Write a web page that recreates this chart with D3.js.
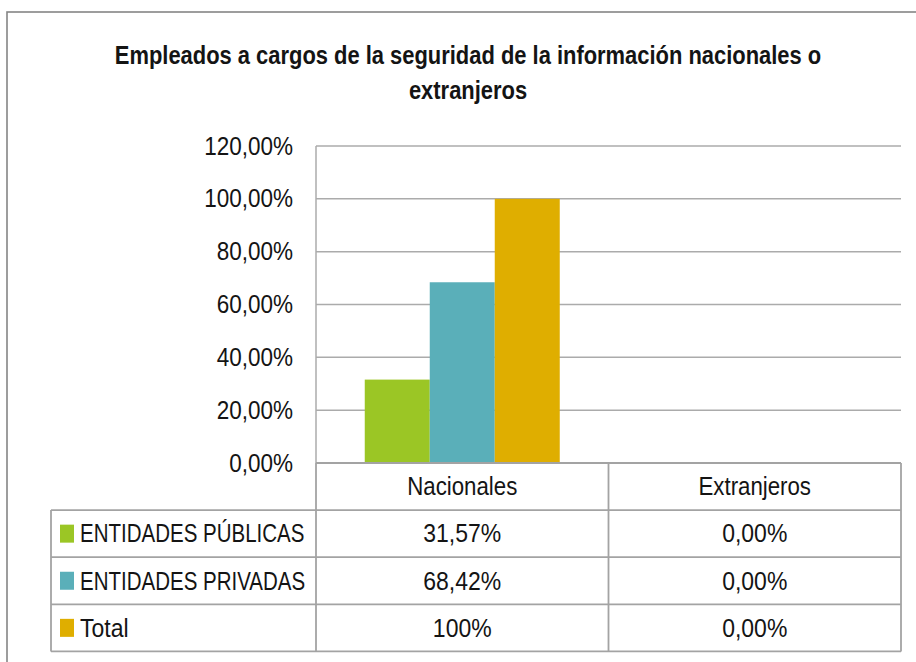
<!DOCTYPE html>
<html>
<head>
<meta charset="utf-8">
<script src="https://cdn.jsdelivr.net/npm/d3@7/dist/d3.min.js"></script>
<style>
  html, body { margin: 0; padding: 0; background: #ffffff; }
  svg { display: block; }
  text { font-family: "Liberation Sans", Arial, sans-serif; fill: #141414; }
</style>
</head>
<body>
<svg id="chart" width="916" height="662"></svg>
<script>
// ---------------- data ----------------
const titleLines = ["Empleados a cargos de la seguridad de la información nacionales o", "extranjeros"];
const categories = ["Nacionales", "Extranjeros"];
const seriesNames = ["ENTIDADES PÚBLICAS", "ENTIDADES PRIVADAS", "Total"];
const publicas = [0.3157, 0.0];
const privadas = [0.6842, 0.0];
const total = [1.0, 0.0];
const yTicks = [0, 0.2, 0.4, 0.6, 0.8, 1.0, 1.2];
const tablePublicas = ["31,57%", "0,00%"];
const tablePrivadas = ["68,42%", "0,00%"];
const tableTotal = ["100%", "0,00%"];

// ---------------- styles / layout ----------------
const colors = ["#9BC625", "#5AAFB9", "#DFAE00"];
const plot = { left: 316, right: 901, top: 146, bottom: 463 };
const tableLeft = 51;
const rowH = 47.1;
const gridColor = "#ababab";
const tableColor = "#a3a3a3";
const fontSize = 25;

const seriesValues = [publicas, privadas, total];
const tableRows = [tablePublicas, tablePrivadas, tableTotal];

const svg = d3.select("#chart");
const es = d3.formatLocale({ decimal: ",", thousands: ".", grouping: [3], currency: ["", "€"] });
const pct = es.format(".2%");

// outer chart frame
svg.append("rect")
  .attr("x", 7).attr("y", 12)
  .attr("width", 1200).attr("height", 1200)
  .attr("fill", "#fff")
  .attr("stroke", "#858585").attr("stroke-width", 1.6);

function addText(x, y, str, opt) {
  const o = Object.assign({ size: fontSize, weight: "normal", anchor: "middle", sx: 0.9 }, opt || {});
  return svg.append("text")
    .attr("transform", `translate(${x},${y}) scale(${o.sx},1)`)
    .attr("text-anchor", o.anchor)
    .attr("dy", "0.35em")
    .style("font-size", o.size + "px")
    .style("font-weight", o.weight)
    .text(str);
}

// title
titleLines.forEach((t, i) => addText(468, 55 + i * 35, t, { size: 25, weight: "bold", sx: 0.877 }));

// scales
const x0 = d3.scaleBand().domain(categories).range([plot.left, plot.right]).paddingInner(0).paddingOuter(0);
const x1 = d3.scaleBand().domain(seriesNames).range([0, x0.bandwidth()]).paddingInner(0).paddingOuter(0.75);
const y = d3.scaleLinear().domain([0, 1.2]).range([plot.bottom, plot.top]);

// gridlines
svg.append("g").selectAll("line").data(yTicks).join("line")
  .attr("x1", plot.left).attr("x2", plot.right)
  .attr("y1", d => y(d)).attr("y2", d => y(d))
  .attr("stroke", gridColor).attr("stroke-width", 1.5);

// y axis
const yAxis = d3.axisLeft(y).tickValues(yTicks).tickFormat(pct).tickSize(0).tickPadding(0);
const gy = svg.append("g").attr("transform", `translate(${plot.left},0)`).call(yAxis);
gy.select(".domain").remove();
gy.selectAll("text")
  .attr("x", 0)
  .attr("transform", "translate(-23,0) scale(0.9,1)")
  .attr("text-anchor", "end")
  .style("font-size", fontSize + "px")
  .style("font-family", '"Liberation Sans", Arial, sans-serif')
  .attr("fill", "#141414");

// bars
const bars = [];
categories.forEach((c, ci) => {
  seriesNames.forEach((s, si) => bars.push({ c, s, si, v: seriesValues[si][ci] }));
});
svg.append("g").selectAll("rect").data(bars).join("rect")
  .attr("x", d => x0(d.c) + x1(d.s))
  .attr("width", x1.bandwidth())
  .attr("y", d => y(d.v))
  .attr("height", d => y(0) - y(d.v))
  .attr("fill", d => colors[d.si]);

// plot left axis line
svg.append("line")
  .attr("x1", plot.left).attr("x2", plot.left)
  .attr("y1", plot.top).attr("y2", plot.bottom)
  .attr("stroke", gridColor).attr("stroke-width", 1.5);

// data table
const tg = svg.append("g");
const tableBottom = plot.bottom + rowH * 4;
tg.append("line").attr("x1", plot.left).attr("x2", plot.right)
  .attr("y1", plot.bottom).attr("y2", plot.bottom)
  .attr("stroke", tableColor).attr("stroke-width", 1.8);
d3.range(1, 5).forEach(i => {
  tg.append("line").attr("x1", tableLeft).attr("x2", plot.right)
    .attr("y1", plot.bottom + rowH * i).attr("y2", plot.bottom + rowH * i)
    .attr("stroke", tableColor).attr("stroke-width", 1.8);
});
tg.append("line").attr("x1", tableLeft).attr("x2", tableLeft)
  .attr("y1", plot.bottom + rowH).attr("y2", tableBottom)
  .attr("stroke", tableColor).attr("stroke-width", 1.8);
[plot.left, x0(categories[1]), plot.right].forEach(xv => {
  tg.append("line").attr("x1", xv).attr("x2", xv)
    .attr("y1", plot.bottom).attr("y2", tableBottom)
    .attr("stroke", tableColor).attr("stroke-width", 1.8);
});

// category header
categories.forEach(c => addText(x0(c) + x0.bandwidth() / 2, plot.bottom + rowH / 2, c, { sx: 0.89 }));

// rows
seriesNames.forEach((s, si) => {
  const cy = plot.bottom + rowH * (si + 1.5);
  svg.append("rect")
    .attr("x", 60).attr("y", cy - 9)
    .attr("width", 14).attr("height", 18)
    .attr("fill", colors[si]);
  addText(80, cy, s, { anchor: "start", sx: s === s.toUpperCase() ? 0.82 : 0.92 });
  categories.forEach((c, ci) => addText(x0(c) + x0.bandwidth() / 2, cy, tableRows[si][ci], { sx: 0.92 }));
});
</script>
</body>
</html>
